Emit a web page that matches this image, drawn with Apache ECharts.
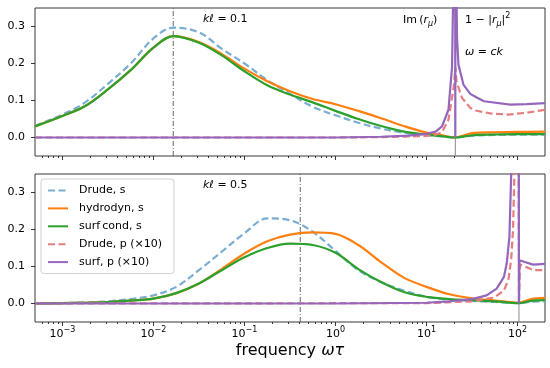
<!DOCTYPE html>
<html><head><meta charset="utf-8">
<script src="https://cdn.jsdelivr.net/npm/echarts@6/dist/echarts.min.js"></script>
<style>html,body{margin:0;padding:0;background:#fff}#c{width:550px;height:368px}</style>
</head><body><div id="c"></div>
<script>
// ---------- data ----------
const xLim = [5e-4, 200];
const yLim = [-0.05, 0.35];
const yTicks = [0, 0.1, 0.2, 0.3];
const xTickExponents = [-3, -2, -1, 0, 1, 2];
const seriesNames = ['Drude, s', 'hydrodyn, s', 'surf\u2009cond, s', 'Drude, p (\u00d710)', 'surf, p (\u00d710)'];

// top panel (k l = 0.1)
const topPeakFreq = 0.0165;
const topLightFreq = 20.7;
const topFreqS = [0.0005, 0.001, 0.00178, 0.00316, 0.00562, 0.01, 0.0166, 0.0316, 0.0562, 0.1, 0.178, 0.316, 0.562, 1, 1.78, 3.16, 5.62, 10, 14.1, 20.7, 31.6, 56.2, 100, 200];
const topDrudeS = [0.032, 0.062, 0.095, 0.145, 0.200, 0.268, 0.297, 0.284, 0.240, 0.200, 0.155, 0.118, 0.083, 0.060, 0.040, 0.024, 0.013, 0.007, 0.003, 0.000, 0.005, 0.007, 0.008, 0.008];
const topHydroS = [0.030, 0.058, 0.085, 0.130, 0.182, 0.243, 0.274, 0.258, 0.226, 0.186, 0.152, 0.125, 0.104, 0.090, 0.072, 0.052, 0.031, 0.013, 0.007, 0.000, 0.012, 0.014, 0.015, 0.016];
const topSurfS = [0.030, 0.058, 0.085, 0.130, 0.182, 0.243, 0.274, 0.256, 0.222, 0.179, 0.141, 0.116, 0.095, 0.072, 0.050, 0.031, 0.016, 0.008, 0.004, 0.000, 0.006, 0.008, 0.009, 0.009];
const topDrudePFreq = [0.0005, 1, 3.16, 10, 12.6, 14.8, 17.4, 19.95, 20.7, 21.4, 24.5, 30.2, 34.7, 50.1, 79.4, 126, 200];
const topDrudeP = [0.000, 0.000, 0.001, 0.004, 0.008, 0.014, 0.048, 0.139, 0.190, 0.150, 0.107, 0.080, 0.073, 0.065, 0.062, 0.067, 0.075];
const topSurfPFreq = [0.0005, 1, 3.16, 6.3, 10, 12.6, 14.8, 17.4, 19.05, 19.95, 20.4, 20.6, 20.7, 20.8, 21.1, 21.6, 22.4, 25.4, 30.2, 35.5, 42.7, 83.2, 126, 200];
const topSurfP = [0.000, 0.000, 0.002, 0.005, 0.010, 0.016, 0.030, 0.075, 0.190, 0.500, 3.000, 3.000, 0.000, 3.000, 0.500, 0.270, 0.197, 0.143, 0.118, 0.108, 0.098, 0.089, 0.090, 0.093];

// bottom panel (k l = 0.5)
const botPeakFreq = 0.41;
const botLightFreq = 103.5;
const botFreqS = [0.0005, 0.001, 0.00178, 0.00316, 0.00562, 0.01, 0.0178, 0.0316, 0.0562, 0.1, 0.178, 0.316, 0.562, 1, 1.78, 3.16, 5.62, 10, 17.8, 31.6, 56.2, 103.5, 141, 200];
const botDrudeS = [0.000, 0.001, 0.003, 0.006, 0.012, 0.022, 0.045, 0.090, 0.140, 0.190, 0.230, 0.225, 0.194, 0.142, 0.090, 0.058, 0.035, 0.018, 0.010, 0.007, 0.004, 0.001, 0.005, 0.006];
const botHydroS = [0.000, 0.001, 0.002, 0.004, 0.008, 0.013, 0.028, 0.054, 0.093, 0.135, 0.168, 0.186, 0.192, 0.188, 0.158, 0.112, 0.070, 0.045, 0.025, 0.014, 0.008, 0.002, 0.012, 0.015];
const botSurfS = [0.000, 0.001, 0.002, 0.004, 0.008, 0.013, 0.028, 0.054, 0.090, 0.125, 0.150, 0.162, 0.158, 0.137, 0.093, 0.058, 0.031, 0.018, 0.012, 0.009, 0.006, 0.001, 0.007, 0.009];
const botDrudePFreq = [0.0005, 10, 31.6, 55, 70.8, 79.4, 85.1, 89.1, 93.3, 100, 103.2, 103.5, 106, 126, 148, 200];
const botDrudeP = [0.000, 0.001, 0.006, 0.016, 0.035, 0.065, 0.120, 0.200, 0.400, 2.000, 2.000, 0.000, 0.105, 0.098, 0.090, 0.090];
const botSurfPFreq = [0.0005, 1, 10, 17.8, 31.6, 45.7, 58.9, 70.8, 75.9, 81.3, 85.1, 89.1, 100, 103.2, 103.5, 104.7, 120, 148, 200];
const botSurfP = [0.000, 0.000, 0.002, 0.006, 0.012, 0.022, 0.040, 0.072, 0.108, 0.180, 0.350, 1.500, 3.000, 3.000, 0.000, 0.117, 0.112, 0.105, 0.107];

// ---------- chart ----------
const FONT = 'DejaVu Sans';
const C = { blue: '#79add2', orange: '#ff7f0e', green: '#2ca02c', red: '#e67d7e', purple: '#9467bd' };
const LW = 2.2;
const DASH = [7, 3.5];
const gridTop = { left: 35, top: 8, width: 510, height: 148 };
const gridBot = { left: 35, top: 174, width: 510, height: 148 };

function zip(xs, ys) { return xs.map((x, i) => [x, ys[i]]); }
function line(name, xs, ys, color, dashed, panel, smooth) {
  return {
    type: 'line', name: name,
    xAxisIndex: panel, yAxisIndex: panel,
    data: zip(xs, ys), symbol: 'none', showSymbol: false,
    smooth: smooth ? 0.35 : false, clip: true,
    lineStyle: { color: color, width: LW, type: dashed ? DASH : 'solid' },
    itemStyle: { color: color },
    emphasis: { disabled: true }
  };
}
function vline(freq, panel, color, width, type) {
  return {
    type: 'line', name: 'guide', xAxisIndex: panel, yAxisIndex: panel,
    data: [[freq, yLim[0]], [freq, yLim[1]]], symbol: 'none', showSymbol: false, silent: true,
    lineStyle: { color: color, width: width, type: type }, z: 1, emphasis: { disabled: true }
  };
}

const lmin = Math.log10(xLim[0]), lmax = Math.log10(xLim[1]);
const minorExp = [];
for (let n = -4; n <= 2; n++) for (let k = 2; k <= 9; k++) {
  const v = Math.log10(k) + n; if (v > lmin && v < lmax) minorExp.push(v);
}
const supMap = { '-3': '\u22123', '-2': '\u22122', '-1': '\u22121', '0': '0', '1': '1', '2': '2' };

function dataAxis(gi) {
  return { type: 'log', gridIndex: gi, min: xLim[0], max: xLim[1], logBase: 10, position: 'bottom',
    axisLine: { show: false, onZero: false }, axisTick: { show: false }, axisLabel: { show: false }, splitLine: { show: false } };
}
function tickAxis(gi, values, len, labels) {
  return { type: 'value', gridIndex: gi, min: lmin, max: lmax, position: 'bottom',
    axisLine: { show: false, onZero: false }, splitLine: { show: false },
    axisTick: { show: true, length: len, inside: false, customValues: values, lineStyle: { color: '#222', width: 0.9 } },
    axisLabel: labels ? {
      show: true, customValues: values, margin: 4,
      formatter: v => '{b|10}{s|' + supMap[String(Math.round(v))] + '}',
      rich: {
        b: { fontFamily: FONT, fontSize: 11, color: '#000', lineHeight: 16 },
        s: { fontFamily: FONT, fontSize: 8, color: '#000', lineHeight: 8, verticalAlign: 'top' }
      }
    } : { show: false }
  };
}
function yAxis(gi) {
  return { type: 'value', gridIndex: gi, min: yLim[0], max: yLim[1], position: 'left',
    axisLine: { show: false, onZero: false }, splitLine: { show: false },
    axisTick: { show: true, length: 4, customValues: yTicks, lineStyle: { color: '#222', width: 0.9 } },
    axisLabel: { show: true, customValues: yTicks, margin: 10, fontFamily: FONT, fontSize: 11, color: '#000',
      formatter: v => v.toFixed(1) } };
}

const mathRich = {
  n: { fontFamily: FONT, fontSize: 11, fill: '#000', lineHeight: 16 },
  i: { fontFamily: FONT, fontSize: 11, fill: '#000', fontStyle: 'italic', lineHeight: 16 },
  sub: { fontFamily: FONT, fontSize: 8, fill: '#000', fontStyle: 'italic', lineHeight: 8, verticalAlign: 'bottom' },
  sup: { fontFamily: FONT, fontSize: 8, fill: '#000', lineHeight: 8, verticalAlign: 'top' }
};
function label(x, y, text) {
  return { type: 'text', x: x, y: y, silent: true,
    style: { text: text, rich: mathRich, fontFamily: FONT, fontSize: 11, fill: '#000', align: 'left', verticalAlign: 'middle' } };
}

const option = {
  animation: false,
  backgroundColor: '#fff',
  grid: [
    Object.assign({ show: true, borderColor: '#222', borderWidth: 0.9, backgroundColor: 'transparent' }, gridTop),
    Object.assign({ show: true, borderColor: '#222', borderWidth: 0.9, backgroundColor: 'transparent' }, gridBot)
  ],
  xAxis: [
    dataAxis(0), dataAxis(1),
    tickAxis(0, xTickExponents, 4, false), tickAxis(0, minorExp, 2, false),
    tickAxis(1, xTickExponents, 4, true), tickAxis(1, minorExp, 2, false)
  ],
  yAxis: [yAxis(0), yAxis(1)],
  legend: {
    data: seriesNames, orient: 'vertical', left: 41, top: 179,
    itemWidth: 20, itemHeight: 12, itemGap: 6.9, padding: [6, 12, 6, 6],
    backgroundColor: 'rgba(255,255,255,0.8)', borderColor: '#d0d0d0', borderWidth: 1, borderRadius: 3,
    selectedMode: false,
    itemStyle: { opacity: 0 },
    textStyle: { fontFamily: FONT, fontSize: 11, color: '#000', padding: [0, 0, 0, 6] }
  },
  series: [
    vline(topPeakFreq, 0, '#555', 0.9, [5, 2, 1, 2]),
    vline(topLightFreq, 0, '#888', 1, 'solid'),
    vline(botPeakFreq, 1, '#555', 0.9, [5, 2, 1, 2]),
    vline(botLightFreq, 1, '#888', 1, 'solid'),
    line(seriesNames[0], topFreqS, topDrudeS, C.blue, true, 0, true),
    line(seriesNames[1], topFreqS, topHydroS, C.orange, false, 0, true),
    line(seriesNames[2], topFreqS, topSurfS, C.green, false, 0, true),
    line(seriesNames[3], topDrudePFreq, topDrudeP, C.red, true, 0, false),
    line(seriesNames[4], topSurfPFreq, topSurfP, C.purple, false, 0, false),
    line(seriesNames[0], botFreqS, botDrudeS, C.blue, true, 1, true),
    line(seriesNames[1], botFreqS, botHydroS, C.orange, false, 1, true),
    line(seriesNames[2], botFreqS, botSurfS, C.green, false, 1, true),
    line(seriesNames[3], botDrudePFreq, botDrudeP, C.red, true, 1, false),
    line(seriesNames[4], botSurfPFreq, botSurfP, C.purple, false, 1, false)
  ],
  graphic: [
    label(203, 19, '{i|k\u2113} = 0.1'),
    label(203, 185, '{i|k\u2113} = 0.5'),
    label(403, 20, 'Im\u2009({i|r}{sub|\u03bc})'),
    label(465, 20, '1 \u2212 |{i|r}{sub|\u03bc}|{sup|2}'),
    label(465, 52, '{i|\u03c9} = {i|ck}'),
    { type: 'text', x: 290, y: 351, silent: true,
      style: { text: 'frequency {i|\u03c9\u03c4}', fontFamily: FONT, fontSize: 16, fill: '#000', align: 'center', verticalAlign: 'middle',
        rich: { i: { fontFamily: FONT, fontSize: 16, fontStyle: 'italic', fill: '#000' } } } }
  ]
};
echarts.init(document.getElementById('c'), null, { renderer: 'canvas' }).setOption(option);
</script></body></html>
